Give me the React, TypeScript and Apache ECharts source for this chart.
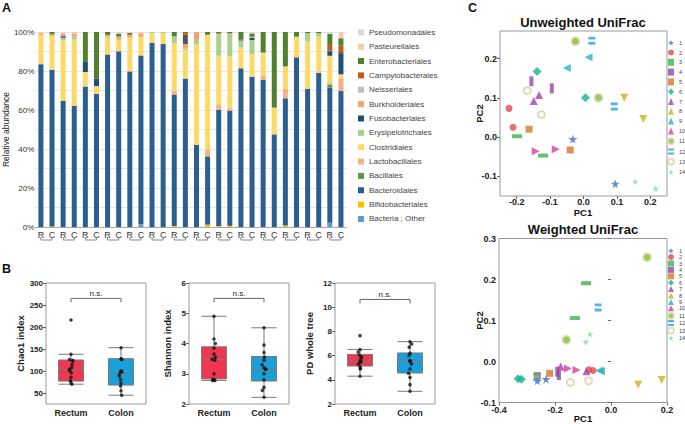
import React, { useEffect, useRef } from 'react';
import * as echarts from 'echarts';

// ---------- Panel A data ----------
const sampleIds = ['R1','C1','R2','C2','R3','C3','R4','C4','R5','C5','R6','C6','R7','C7','R8','C8','R9','C9','R10','C10','R11','C11','R12','C12','R13','C13','R14','C14'];
const bacteriaOther = [0,0,0,0,0,0,0,0,0,1.5, 0,0,0,0,0,0,0,0,0,0, 0,0,0,0,0,0,2.2,0];
const bifidobacteriales = [0,0.3,0,0,0,0,0,0,0,0, 0,0,0.5,0,0,1.2,0.5,0.6,0,0, 0,0,0.8,0,0,0,0,0];
const bacteroidales = [83.5,80.4,64.6,62.2,72.0,68.2,88.5,90.1,79.7,86.5, 94.5,93.8,67.5,76.1,42.1,35.0,59.5,59.1,81.4,77.1, 75.4,47.5,65.2,87.0,70.8,79.1,69.4,69.7];
const bacillales = [0,0,0,0,0,0,0,0,0,0, 0,0,0,0,0,0,0,0,0,0, 0,0,0,0,0,0,1.5,0];
const lactobacillales = [0.5,0,0,0,0,0,0,0,0.7,0, 0,0,1.7,0,0,3.4,2.8,1.2,0,0, 2.1,0,4.8,0,0,0,1.0,6.5];
const clostridiales = [14.5,17.3,31.2,34.0,7.5,4.1,8.6,5.8,16.7,9.5, 4.8,5.5,24.5,14.7,51.6,59.0,25.0,26.5,10.6,11.6, 11.6,13.7,11.5,10.6,24.3,18.5,13.7,2.1];
const erysipelotrichales = [0,0,1.2,1.5,0,0,0.6,0.6,0,0, 0.7,0.7,3.2,0.8,2.2,0,10.5,11.1,3.6,7.2, 0.4,0,0,0,4.3,1.7,0,0];
const fusobacteriales = [0,0,0.8,0,5.1,3.9,0,0,0,0, 0,0,0,0,0,0,0,0,0,1.2, 0,0,0,0,0,0,2.3,10.8];
const burkholderiales = [0.8,1.0,1.2,1.3,0,0,0.8,1.2,1.5,1.8, 0,0,0.4,2.2,4.1,0,0.9,0.8,0,0.5, 0,0,0,0,0,0,0,0];
const neisseriales = [0,0,0,0,0,0,0,0,0,0, 0,0,0,4.8,0,0,0,0,0.6,0, 0,0,0,0,0,0,0.5,0.8];
const campylobacterales = [0,0,0,0,0,0,0,0,0,0, 0,0,0,1.4,0,0,0,0,0,0, 0,0,0,0,0,0,2.8,3.1];
const enterobacteriales = [0,1.0,0,0,15.4,23.8,1.5,1.5,0.9,0, 0,0,2.2,0,0,1.4,0.8,0.7,3.8,1.7, 10.5,38.8,17.7,2.4,0.6,0.7,5.6,3.8];
const pasteurellales = [0.7,0,0,1.0,0,0,0,0,0,0.7, 0,0,0,0,0,0,0,0,0,0, 0,0,0,0,0,0,0,3.2];
const pseudomonadales = [0,0,1.0,0,0,0,0,0.8,0.5,0, 0,0,0,0,0,0,0,0,0,0.7, 0,0,0,0,0,0,1.0,0];

const stackSeriesData: [string, number[]][] = [
  ['Bacteria ; Other', bacteriaOther],
  ['Bifidobacteriales', bifidobacteriales],
  ['Bacteroidales', bacteroidales],
  ['Bacillales', bacillales],
  ['Lactobacillales', lactobacillales],
  ['Clostridiales', clostridiales],
  ['Erysipelotrichales', erysipelotrichales],
  ['Fusobacteriales', fusobacteriales],
  ['Burkholderiales', burkholderiales],
  ['Neisseriales', neisseriales],
  ['Campylobacterales', campylobacterales],
  ['Enterobacteriales', enterobacteriales],
  ['Pasteurellales', pasteurellales],
  ['Pseudomonadales', pseudomonadales],
];

// ---------- Panel B data ----------
const groups = ['Rectum', 'Colon'];
const chao1Rectum = [216, 138, 126, 124, 123, 115, 108, 104, 101, 96, 86, 78, 73, 70];
const chao1Colon = [153, 128, 127, 126, 100, 99, 98, 92, 88, 80, 72, 66, 55, 45];
const chao1RectumBox = [70, 77, 104, 125, 138];
const chao1ColonBox = [45, 68, 94, 128, 153];
const shannonRectum = [4.9, 4.15, 4.0, 3.85, 3.65, 3.55, 3.48, 3.45, 3.0, 2.82, 2.8, 2.8, 2.78, 2.78];
const shannonColon = [4.52, 3.95, 3.7, 3.55, 3.45, 3.3, 3.2, 3.15, 3.15, 3.0, 2.8, 2.55, 2.45, 2.22];
const shannonRectumBox = [2.78, 2.83, 3.47, 3.89, 4.9];
const shannonColonBox = [2.22, 2.76, 3.15, 3.57, 4.52];
const pdRectum = [7.65, 6.5, 6.3, 6.05, 5.9, 5.8, 5.6, 5.5, 5.45, 5.3, 5.1, 4.95, 4.9, 4.3];
const pdColon = [7.15, 6.95, 6.7, 6.2, 6.0, 5.6, 5.55, 5.5, 5.3, 4.9, 4.55, 4.2, 3.6, 3.05];
const pdRectumBox = [4.3, 5.14, 5.53, 6.1, 6.5];
const pdColonBox = [3.05, 4.56, 5.58, 6.22, 7.15];
const nsLevels = [265, 5.49, 10.64];

// ---------- Panel C data (two samples per subject, in order 1..14) ----------
const subjects = ['1','2','3','4','5','6','7','8','9','10','11','12','13','14'];
const unweightedPC1 = [-0.032,0.095, -0.223,-0.211, -0.199,-0.121, -0.156,-0.095, -0.163,-0.040, -0.139,0.006, -0.149,-0.133, 0.122,0.179, -0.050,0.015, -0.143,-0.083, -0.024,0.045, 0.025,0.092, -0.168,-0.126, 0.155,0.216];
const unweightedPC2 = [-0.005,-0.119, 0.073,0.025, 0.002,-0.047, 0.142,0.124, 0.020,-0.033, 0.167,0.100, 0.092,0.107, 0.100,0.046, 0.176,0.203, -0.036,-0.031, 0.244,0.100, 0.245,0.078, 0.118,0.057, -0.113,-0.131];
const weightedPC1 = [-0.263,-0.232, -0.079,-0.064, -0.089,-0.129, -0.192,-0.186, -0.263,-0.219, -0.332,-0.320, -0.180,-0.088, 0.097,0.181, -0.042,-0.036, -0.154,-0.123, 0.129,-0.159, -0.046,-0.265, -0.145,-0.080, -0.075,-0.090];
const weightedPC2 = [-0.047,-0.043, -0.020,-0.022, 0.191,0.106, -0.025,-0.033, -0.034,-0.029, -0.042,-0.043, -0.012,-0.024, -0.057,-0.045, -0.022,-0.024, -0.017,-0.021, 0.254,0.053, 0.132,-0.037, -0.051,-0.047, 0.067,0.048];
const unweightedPC1Ticks = [-0.2, -0.1, 1e-10, 0.1, 0.2];
const unweightedPC2Ticks = [-0.1, 1e-10, 0.1, 0.2];
const weightedPC1Ticks = [-0.4, -0.2, 1e-10, 0.2];

// ---------- styles ----------
const FONT = 'Liberation Sans, Arial, Helvetica, sans-serif';
const taxaColors: Record<string, string> = {
  'Bacteria ; Other': '#5b9bd5',
  'Bifidobacteriales': '#ffc000',
  'Bacteroidales': '#2c5f91',
  'Bacillales': '#5b9b3a',
  'Lactobacillales': '#f4b183',
  'Clostridiales': '#ffd966',
  'Erysipelotrichales': '#a9d18e',
  'Fusobacteriales': '#1f4e79',
  'Burkholderiales': '#f4a46c',
  'Neisseriales': '#555555',
  'Campylobacterales': '#c55a11',
  'Enterobacteriales': '#51802f',
  'Pasteurellales': '#f8cbad',
  'Pseudomonadales': '#d9d9d9',
};
const STAR = 'path://M50,0 L61,35 L98,35 L68,57 L79,91 L50,70 L21,91 L32,57 L2,35 L39,35 Z';
const EQUALS = 'path://M0,0 H10 V3.5 H0 Z M0,6.5 H10 V10 H0 Z';
const subjectStyles: any[] = [
  { symbol: STAR, size: 9, color: '#4a6cc8' },
  { symbol: 'circle', size: 7, color: '#e04a52' },
  { symbol: 'rect', size: [10, 4], color: '#3bb54a' },
  { symbol: 'rect', size: [4, 10], color: '#8e4aa8' },
  { symbol: 'rect', size: 7, color: '#d8772a' },
  { symbol: 'diamond', size: 9, color: '#19b38e' },
  { symbol: 'triangle', size: 8, color: '#a444a8' },
  { symbol: 'triangle', size: 8, color: '#c8b31e', rotate: 180 },
  { symbol: 'triangle', size: 8, color: '#28b3c3', rotate: 90 },
  { symbol: 'triangle', size: 8, color: '#d93aa2', rotate: -90 },
  { symbol: 'circle', size: 8, color: '#8fb53a', border: '#d3e2a0' },
  { symbol: EQUALS, size: [7, 8], color: '#2aa0d8' },
  { symbol: 'emptyCircle', size: 7, color: '#d9d2a6', bw: 2.2 },
  { symbol: STAR, size: 7, color: '#86d9a8' },
];

const fmt1 = (v: number) => (Math.abs(v) < 1e-6 ? 0 : v).toFixed(1);
const boldTick = { fontFamily: FONT, fontWeight: 'bold', color: '#222' };
const pcName = { fontFamily: FONT, fontWeight: 'bold', fontSize: 9.5, color: '#222' };

function buildOption() {
  const grids = [
    { left: 33.5, top: 32, width: 313, height: 195 },
    { left: 46, top: 283, width: 100, height: 121, show: true, borderColor: '#999', borderWidth: 1 },
    { left: 189, top: 283, width: 100, height: 121, show: true, borderColor: '#999', borderWidth: 1 },
    { left: 335, top: 283, width: 100, height: 121, show: true, borderColor: '#999', borderWidth: 1 },
    { left: 500, top: 31, width: 167, height: 165, show: true, borderColor: '#999', borderWidth: 1 },
    { left: 499, top: 238.5, width: 168, height: 164, show: true, borderColor: '#999', borderWidth: 1 },
  ];

  const xAxis: any[] = [
    {
      type: 'category', gridIndex: 0, data: sampleIds,
      axisLine: { lineStyle: { color: '#aaa' } }, axisTick: { show: false },
      axisLabel: { interval: 0, margin: 3, fontSize: 9, color: '#333', fontFamily: FONT, formatter: (v: string) => v[0] },
    },
  ];
  for (let g = 1; g <= 3; g++) {
    xAxis.push({
      type: 'category', gridIndex: g, data: groups,
      axisLine: { show: false }, axisTick: { show: false },
      axisLabel: { ...boldTick, fontSize: 9, margin: 4 },
      jitter: 4, jitterOverlap: false,
    });
  }
  xAxis.push({
    type: 'value', gridIndex: 4, min: -0.25, max: 0.25,
    axisLine: { show: false, onZero: false }, splitLine: { show: false },
    axisTick: { show: true, length: 3, lineStyle: { color: '#666' }, customValues: unweightedPC1Ticks },
    axisLabel: { ...boldTick, fontSize: 9, margin: 1, formatter: fmt1, customValues: unweightedPC1Ticks },
  });
  xAxis.push({
    type: 'value', gridIndex: 5, min: -0.4, max: 0.2,
    axisLine: { show: false, onZero: false }, splitLine: { show: false },
    axisTick: { show: true, length: 3, lineStyle: { color: '#666' }, customValues: weightedPC1Ticks },
    axisLabel: { ...boldTick, fontSize: 9, margin: 3, formatter: fmt1, customValues: weightedPC1Ticks },
  });

  const bNameStyle = { fontFamily: FONT, fontWeight: 'bold', fontSize: 9.5, color: '#222' };
  const yAxis: any[] = [
    {
      type: 'value', gridIndex: 0, min: 0, max: 100, interval: 10,
      axisLine: { show: false }, axisTick: { show: false },
      splitLine: { lineStyle: { color: '#e6e6e6' } },
      axisLabel: { fontSize: 8, color: '#333', margin: 1, fontFamily: FONT, formatter: (v: number) => (v % 20 === 0 ? v + '%' : '') },
      name: 'Relative abundance', nameLocation: 'middle', nameGap: 19,
      nameTextStyle: { fontFamily: FONT, fontSize: 8.5, color: '#222' },
    },
    {
      type: 'value', gridIndex: 1, min: 25, max: 300,
      axisLine: { show: false }, splitLine: { show: false },
      axisTick: { show: true, length: 3, lineStyle: { color: '#666' }, customValues: [50, 100, 150, 200, 250, 300] },
      axisLabel: { ...boldTick, fontSize: 8, margin: 3, customValues: [50, 100, 150, 200, 250, 300] },
      name: 'Chao1 index', nameLocation: 'middle', nameGap: 21, nameTextStyle: bNameStyle,
    },
    {
      type: 'value', gridIndex: 2, min: 2, max: 6, interval: 1,
      axisLine: { show: false }, splitLine: { show: false },
      axisTick: { show: true, length: 3, lineStyle: { color: '#666' } },
      axisLabel: { ...boldTick, fontSize: 8, margin: 3 },
      name: 'Shannon index', nameLocation: 'middle', nameGap: 17, nameTextStyle: bNameStyle,
    },
    {
      type: 'value', gridIndex: 3, min: 2, max: 12, interval: 2,
      axisLine: { show: false }, splitLine: { show: false },
      axisTick: { show: true, length: 3, lineStyle: { color: '#666' } },
      axisLabel: { ...boldTick, fontSize: 8, margin: 3 },
      name: 'PD whole tree', nameLocation: 'middle', nameGap: 21, nameTextStyle: bNameStyle,
    },
    {
      type: 'value', gridIndex: 4, min: -0.15, max: 0.27,
      axisLine: { show: false, onZero: false }, splitLine: { show: false },
      axisTick: { show: true, length: 3, lineStyle: { color: '#666' }, customValues: unweightedPC2Ticks },
      axisLabel: { ...boldTick, fontSize: 9, margin: 3, formatter: fmt1, customValues: unweightedPC2Ticks },
      name: 'PC2', nameLocation: 'middle', nameGap: 16, nameMoveOverlap: false, nameTextStyle: pcName,
    },
    {
      type: 'value', gridIndex: 5, min: -0.1, max: 0.3, interval: 0.1,
      axisLine: { show: false }, splitLine: { show: false },
      axisTick: { show: true, length: 3, lineStyle: { color: '#666' } },
      axisLabel: { ...boldTick, fontSize: 9, margin: 3, formatter: fmt1 },
      name: 'PC2', nameLocation: 'middle', nameGap: 15, nameMoveOverlap: false, nameTextStyle: pcName,
    },
  ];

  const series: any[] = [];
  // Panel A stacked bars
  stackSeriesData.forEach(([name, data]) => {
    series.push({
      type: 'bar', name, stack: 'total', xAxisIndex: 0, yAxisIndex: 0,
      barWidth: 5, data, itemStyle: { color: taxaColors[name] },
    });
  });
  // Panel A pair brackets
  series.push({
    type: 'custom', name: 'pairs', xAxisIndex: 0, yAxisIndex: 0, clip: false, silent: true,
    encode: { x: 0, y: 1 },
    data: subjects.map((_, i) => [2 * i, 2 * i + 1]),
    renderItem: (params: any, api: any) => {
      const a = api.coord([api.value(0), 0]);
      const b = api.coord([api.value(1), 0]);
      const y = a[1] + 10;
      return {
        type: 'polyline',
        shape: { points: [[a[0], y], [a[0], y + 3], [b[0], y + 3], [b[0], y]] },
        style: { stroke: '#888', fill: 'none', lineWidth: 1 },
      };
    },
  });

  // Panel B
  const bSets = [
    [chao1RectumBox, chao1ColonBox, chao1Rectum, chao1Colon],
    [shannonRectumBox, shannonColonBox, shannonRectum, shannonColon],
    [pdRectumBox, pdColonBox, pdRectum, pdColon],
  ];
  bSets.forEach(([rb, cb, rp, cp], k) => {
    const g = k + 1;
    series.push({
      type: 'boxplot', name: 'box' + g, xAxisIndex: g, yAxisIndex: g, boxWidth: [25, 25],
      data: [
        { value: rb, itemStyle: { color: '#ef3850', borderColor: '#7a7a7a', borderWidth: 1 } },
        { value: cb, itemStyle: { color: '#1a9fd9', borderColor: '#7a7a7a', borderWidth: 1 } },
      ],
    });
    series.push({
      type: 'scatter', name: 'pts' + g, xAxisIndex: g, yAxisIndex: g, symbolSize: 3.5, z: 5,
      itemStyle: { color: '#111' },
      data: [...rp.map((v) => [0, v]), ...cp.map((v) => [1, v])],
    });
    series.push({
      type: 'custom', name: 'ns' + g, xAxisIndex: g, yAxisIndex: g, clip: false, silent: true,
      encode: { x: 0, y: 1 },
      data: [[0, nsLevels[k]]],
      renderItem: (params: any, api: any) => {
        const a = api.coord([0, api.value(1)]);
        const b = api.coord([1, api.value(1)]);
        return {
          type: 'group',
          children: [
            { type: 'polyline', shape: { points: [[a[0], a[1] + 4], [a[0], a[1]], [b[0], b[1]], [b[0], b[1] + 4]] }, style: { stroke: '#666', fill: 'none', lineWidth: 1 } },
            { type: 'text', x: (a[0] + b[0]) / 2, y: a[1] - 1, style: { text: 'n.s.', fontSize: 8, fontFamily: FONT, align: 'center', verticalAlign: 'bottom', fill: '#222' } },
          ],
        };
      },
    });
  });

  // Panel C
  const addScatter = (xi: number, xs: number[], ys: number[]) => {
    subjects.forEach((s, i) => {
      const st = subjectStyles[i];
      series.push({
        type: 'scatter', name: s, xAxisIndex: xi, yAxisIndex: xi,
        symbol: st.symbol, symbolSize: st.size, symbolRotate: st.rotate || 0,
        itemStyle: {
          color: st.color,
          borderColor: st.border || st.color,
          borderWidth: st.border ? 1.8 : st.bw || 0,
        },
        data: [[xs[2 * i], ys[2 * i]], [xs[2 * i + 1], ys[2 * i + 1]]],
      });
    });
  };
  addScatter(4, unweightedPC1, unweightedPC2);
  addScatter(5, weightedPC1, weightedPC2);

  const legendOrder = stackSeriesData.map(([n]) => n).reverse();
  const legend: any[] = [
    {
      orient: 'vertical', left: 358, top: 27.3, padding: 0, itemWidth: 6, itemHeight: 6, itemGap: 4.36,
      icon: 'rect', selectedMode: false,
      data: legendOrder.map((n) => (n === 'Neisseriales' ? { name: n, itemStyle: { color: '#bfbfbf' } } : n)),
      textStyle: { fontSize: 8, lineHeight: 10, color: '#444', fontFamily: FONT },
    },
    {
      orient: 'vertical', left: 667, top: 39.2, padding: 0, itemWidth: 6, itemHeight: 7, itemGap: 2.8,
      selectedMode: false, data: subjects,
      textStyle: { fontSize: 5.5, lineHeight: 7, color: '#444', fontFamily: FONT },
    },
    {
      orient: 'vertical', left: 667, top: 247.7, padding: 0, itemWidth: 6, itemHeight: 6, itemGap: 0.4,
      selectedMode: false, data: subjects,
      textStyle: { fontSize: 5.5, lineHeight: 6, color: '#444', fontFamily: FONT },
    },
  ];

  const panelText = (t: string, x: number, y: number, size = 12.5) => ({
    type: 'text', x, y, style: { text: t, fontSize: size, fontWeight: 'bold', fontFamily: FONT, fill: '#111' },
  });
  const centered = (t: string, x: number, y: number, size: number) => ({
    type: 'text', x, y, style: { text: t, fontSize: size, fontWeight: 'bold', fontFamily: FONT, fill: '#111', align: 'center', verticalAlign: 'middle' },
  });
  const graphic = [
    panelText('A', 2, 1),
    panelText('B', 2, 262),
    panelText('C', 468, 1),
    centered('Unweighted UniFrac', 583, 22, 13),
    centered('Weighted UniFrac', 583, 229, 13),
    centered('PC1', 583, 212.5, 9.5),
    centered('PC1', 583, 418.5, 9.5),
  ];

  return {
    animation: false,
    backgroundColor: '#ffffff',
    textStyle: { fontFamily: FONT },
    grid: grids,
    xAxis,
    yAxis,
    legend,
    graphic,
    series,
  };
}

export default function App() {
  const ref = useRef<HTMLDivElement>(null);
  useEffect(() => {
    document.body.style.margin = '0';
    const chart = echarts.init(ref.current as HTMLDivElement, null, { renderer: 'svg' });
    chart.setOption(buildOption() as any);
    return () => chart.dispose();
  }, []);
  return <div ref={ref} style={{ width: 685, height: 424 }} />;
}
